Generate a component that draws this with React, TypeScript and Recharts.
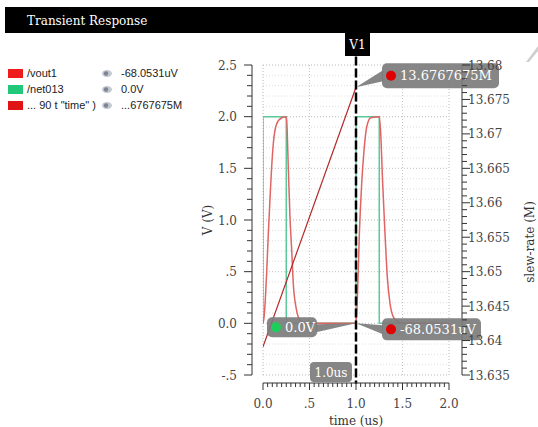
import React from "react";
import {
  ComposedChart,
  Line,
  XAxis,
  YAxis,
  CartesianGrid,
  ReferenceLine,
  ReferenceDot,
} from "recharts";

const FONT_SERIF = "'DejaVu Serif', serif";
const FONT_SANS = "'Liberation Sans', Arial, sans-serif";

// cursor V1 and the readouts it shows
const MARKER_T = 1.0;
const VOUT1_MARK = -68.0531e-6;
const NET013_MARK = 0;
const SLEW_MARK = 13.6767675;

// /vout1 (V) against time (us)
const VOUT1_T = [
  0, 0.011, 0.04, 0.057, 0.075, 0.093, 0.111, 0.147, 0.201, 0.247, 0.255, 0.272, 0.29, 0.309,
  0.326, 0.355, 0.38, 0.416, 0.45, 1.0, 1.014, 1.036, 1.061, 1.086, 1.115, 1.158, 1.251, 1.266,
  1.287, 1.312, 1.337, 1.366, 1.402, 1.445, 1.5, 2.0,
];
const VOUT1_V = [
  0, 0.058, 0.5, 0.865, 1.2, 1.51, 1.74, 1.93, 1.99, 2.0, 1.96, 1.51, 1.03, 0.7, 0.38, 0.155,
  0.058, 0.01, 0, VOUT1_MARK, 0.22, 0.865, 1.35, 1.67, 1.9, 1.99, 2.0, 1.83, 1.35, 0.865, 0.445,
  0.19, 0.06, 0.02, 0, 0,
];

// /net013 input pulse
const NET013_T = [0, 0, 0.25, 0.25, 1.0, 1.0, 1.25, 1.25, 2.0];
const NET013_V = [0, 2, 2, 0, NET013_MARK, 2, 2, 0, 0];

// slew-rate expression (M), right axis
const SLEW_T = [0, MARKER_T];
const SLEW_M = [13.6391, SLEW_MARK];

// axis tick labels
const TIME_TICKS = [0, 0.5, 1, 1.5, 2];
const TIME_TICK_LABELS = ["0.0", ".5", "1.0", "1.5", "2.0"];
const V_TICKS = [-0.5, 0, 0.5, 1, 1.5, 2, 2.5];
const V_TICK_LABELS = ["-.5", "0.0", ".5", "1.0", "1.5", "2.0", "2.5"];
const SLEW_TICKS = [13.635, 13.64, 13.645, 13.65, 13.655, 13.66, 13.665, 13.67, 13.675, 13.68];
const SLEW_TICK_LABELS = [
  "13.635", "13.64", "13.645", "13.65", "13.655", "13.66", "13.665", "13.67", "13.675", "13.68",
];

// legend rows
const LEGEND_NAMES = ["/vout1", "/net013", '... 90 t "time" )'];
const LEGEND_COLORS = ["#ee1c1c", "#22c87a", "#e01414"];

const fmtMicroVolt = (v: number) => `${(v * 1e6).toFixed(4)}uV`;
const fmtVolt = (v: number) => `${v.toFixed(1)}V`;
const fmtMega = (v: number) => `${v}M`;
const LEGEND_VALUES = [
  fmtMicroVolt(VOUT1_MARK),
  fmtVolt(NET013_MARK),
  "..." + fmtMega(SLEW_MARK).slice(-8),
];

const zip = (ts: number[], vs: number[], key: string) =>
  ts.map((t, i) => ({ t, [key]: vs[i] }));

const vout1Data = zip(VOUT1_T, VOUT1_V, "v");
const net013Data = zip(NET013_T, NET013_V, "v");
const slewData = zip(SLEW_T, SLEW_M, "s");

const steps = (lo: number, hi: number, n: number) =>
  Array.from({ length: n + 1 }, (_, i) => Math.round((lo + ((hi - lo) * i) / n) * 1e6) / 1e6);

const TIME_MINOR = steps(0, 2, 40);
const GRID_T = steps(0, 2, 20);
const V_MINOR = steps(-0.5, 2.5, 30);
const SLEW_MINOR = steps(13.635, 13.68, 45);

const majorIndex = (ticks: number[], v: number) =>
  ticks.findIndex((t) => Math.abs(t - v) < 1e-7);

const tickText = { fill: "#444", fontSize: 12, fontFamily: FONT_SERIF };

function TimeTick({ x, y, payload }: any) {
  const i = majorIndex(TIME_TICKS, payload.value);
  return (
    <g>
      <line x1={x} x2={x} y1={y} y2={y + (i >= 0 ? 7 : 4)} stroke="#333" />
      {i >= 0 && (
        <text x={x} y={y + 25} textAnchor="middle" {...tickText}>
          {TIME_TICK_LABELS[i]}
        </text>
      )}
    </g>
  );
}

function VoltTick({ x, y, payload }: any) {
  const i = majorIndex(V_TICKS, payload.value);
  return (
    <g>
      <line x1={x} x2={x - (i >= 0 ? 8 : 5)} y1={y} y2={y} stroke="#333" />
      {i >= 0 && (
        <text x={x - 15} y={y + 4.5} textAnchor="end" {...tickText}>
          {V_TICK_LABELS[i]}
        </text>
      )}
    </g>
  );
}

function SlewTick({ x, y, payload }: any) {
  const i = majorIndex(SLEW_TICKS, payload.value);
  return (
    <g>
      <line x1={x} x2={x + (i >= 0 ? 8 : 5)} y1={y} y2={y} stroke="#333" />
      {i >= 0 && (
        <text x={x + 6} y={y + 4.5} textAnchor="start" {...tickText}>
          {SLEW_TICK_LABELS[i]}
        </text>
      )}
    </g>
  );
}

// rotated axis title, placed relative to the axis box
const axisTitle = (text: string, dx: number, dy: number) => (props: any) => {
  const vb = props.viewBox || {};
  const cx = vb.x + dx;
  const cy = vb.y + vb.height / 2 + dy;
  return (
    <text
      x={cx}
      y={cy}
      transform={`rotate(-90, ${cx}, ${cy})`}
      textAnchor="middle"
      dominantBaseline="central"
      fill="#333"
      fontSize={12}
      fontFamily={FONT_SERIF}
    >
      {text}
    </text>
  );
};

// readout bubbles hanging off the cursor
const CALLOUTS = [
  {
    key: "slew",
    y: SLEW_MARK,
    axis: "s",
    text: fmtMega(SLEW_MARK),
    dot: "#e00000",
    box: [26, -24, 117, 25],
    wedge: [[0, 0], [27, -17], [27, -6]],
  },
  {
    key: "net013",
    y: NET013_MARK,
    axis: "v",
    text: fmtVolt(NET013_MARK),
    dot: "#1ccf5a",
    box: [-89, -6, 50, 20],
    wedge: [[0, 0], [-40, 1], [-40, 9]],
  },
  {
    key: "vout1",
    y: VOUT1_MARK,
    axis: "v",
    text: fmtMicroVolt(VOUT1_MARK),
    dot: "#e00000",
    box: [26, -5, 99, 22],
    wedge: [[0, 0], [27, 2], [27, 11]],
  },
];

const BUBBLE = "#7c7c7c";

const calloutShape = (c: (typeof CALLOUTS)[number]) => (p: any) => {
  const { cx, cy } = p;
  const [bx, by, bw, bh] = c.box;
  return (
    <g>
      <polygon
        points={c.wedge.map(([dx, dy]) => `${cx + dx},${cy + dy}`).join(" ")}
        fill={BUBBLE}
        opacity={0.92}
      />
      <rect x={cx + bx} y={cy + by} width={bw} height={bh} rx={5} fill={BUBBLE} opacity={0.92} />
      <circle cx={cx + bx + 9} cy={cy + by + bh / 2} r={5} fill={c.dot} />
      <text
        x={cx + bx + 18}
        y={cy + by + bh / 2 + 4.5}
        fill="#fff"
        fontSize={13}
        fontFamily={FONT_SERIF}
      >
        {c.text}
      </text>
    </g>
  );
};

const cursorTag = (p: any) => (
  <g>
    <rect x={p.cx - 11} y={p.cy - 32} width={25} height={23} fill="#000" />
    <text
      x={p.cx + 1.5}
      y={p.cy - 16}
      textAnchor="middle"
      fill="#fff"
      fontSize={12}
      fontFamily={FONT_SERIF}
    >
      V1
    </text>
  </g>
);

const timeTag = (p: any) => (
  <g>
    <rect x={p.cx - 46} y={p.cy - 13} width={42} height={20} rx={4} fill={BUBBLE} opacity={0.92} />
    <text
      x={p.cx - 25}
      y={p.cy + 2}
      textAnchor="middle"
      fill="#fff"
      fontSize={12}
      fontFamily={FONT_SERIF}
    >
      {`${MARKER_T.toFixed(1)}us`}
    </text>
  </g>
);

function Eye() {
  return (
    <svg width={12} height={9} style={{ position: "absolute", left: 101, top: 4 }}>
      <ellipse cx={6} cy={4.5} rx={5} ry={3.5} fill="#c3c7cf" />
      <circle cx={5} cy={4.5} r={2.2} fill="#7d8594" />
    </svg>
  );
}

export default function App() {
  return (
    <div
      style={{
        position: "absolute",
        left: 0,
        top: 0,
        width: 538,
        height: 427,
        background: "#fff",
        overflow: "hidden",
      }}
    >
      <div
        style={{
          position: "absolute",
          left: 5,
          top: 7,
          width: 533,
          height: 26,
          background: "#000",
          color: "#fff",
          fontFamily: FONT_SERIF,
          fontSize: 12,
          lineHeight: "28px",
          paddingLeft: 22,
          boxSizing: "border-box",
        }}
      >
        Transient Response
      </div>

      <div style={{ position: "absolute", left: 0, top: 65, fontFamily: FONT_SANS, fontSize: 11, color: "#222" }}>
        {LEGEND_NAMES.map((name, i) => (
          <div key={name} style={{ position: "absolute", left: 0, top: i * 16, width: 200, height: 16 }}>
            <span
              style={{
                position: "absolute",
                left: 8,
                top: 4,
                width: 15,
                height: 9,
                background: LEGEND_COLORS[i],
              }}
            />
            <span style={{ position: "absolute", left: 27, top: 0, lineHeight: "16px", whiteSpace: "nowrap" }}>
              {name}
            </span>
            <Eye />
            <span style={{ position: "absolute", left: 121, top: 0, lineHeight: "16px", whiteSpace: "nowrap" }}>
              {LEGEND_VALUES[i]}
            </span>
          </div>
        ))}
      </div>

      <div style={{ position: "absolute", left: 0, top: 0 }}>
        <ComposedChart width={538} height={427} margin={{ top: 65, right: 4, bottom: 0, left: 212 }}>
          <CartesianGrid xAxisId="g" yAxisId="v" stroke="#dedede" strokeDasharray="1 2" />
          {TIME_TICKS.map((t) => (
            <ReferenceLine
              key={`gx${t}`}
              x={t}
              xAxisId="t"
              yAxisId="v"
              stroke="#c6c6c6"
              strokeDasharray="1 2"
            />
          ))}
          {V_TICKS.map((v) => (
            <ReferenceLine
              key={`gy${v}`}
              y={v}
              xAxisId="t"
              yAxisId="v"
              stroke="#c6c6c6"
              strokeDasharray="1 2"
            />
          ))}

          <XAxis
            xAxisId="g"
            type="number"
            domain={[0, 2]}
            ticks={GRID_T}
            height={8}
            tick={false}
            tickLine={false}
            axisLine={false}
            allowDataOverflow
          />
          <XAxis
            xAxisId="t"
            dataKey="t"
            type="number"
            domain={[0, 2]}
            ticks={TIME_MINOR}
            interval={0}
            height={44}
            tickSize={0}
            tickMargin={0}
            tickLine={false}
            axisLine={{ stroke: "#333" }}
            tick={(p: any) => <TimeTick {...p} />}
            allowDataOverflow
            label={{
              value: "time (us)",
              position: "insideBottom",
              offset: 2,
              fill: "#333",
              fontSize: 12,
              fontFamily: FONT_SERIF,
            }}
          />
          <YAxis
            yAxisId="gl"
            orientation="left"
            width={11}
            domain={[0, 1]}
            tick={false}
            tickLine={false}
            axisLine={false}
          />
          <YAxis
            yAxisId="v"
            orientation="left"
            type="number"
            width={40}
            domain={[-0.5, 2.5]}
            ticks={V_MINOR}
            interval={0}
            tickSize={0}
            tickMargin={0}
            tickLine={false}
            axisLine={{ stroke: "#333" }}
            tick={(p: any) => <VoltTick {...p} />}
            allowDataOverflow
            label={{ content: axisTitle("V (V)", -4, 0) }}
          />
          <YAxis
            yAxisId="gr"
            orientation="right"
            width={13}
            domain={[0, 1]}
            tick={false}
            tickLine={false}
            axisLine={false}
          />
          <YAxis
            yAxisId="s"
            orientation="right"
            type="number"
            width={72}
            domain={[13.635, 13.68]}
            ticks={SLEW_MINOR}
            interval={0}
            tickSize={0}
            tickMargin={0}
            tickLine={false}
            axisLine={{ stroke: "#333" }}
            tick={(p: any) => <SlewTick {...p} />}
            allowDataOverflow
            label={{ content: axisTitle("slew-rate (M)", 68, 22) }}
          />

          <Line
            data={net013Data}
            dataKey="v"
            xAxisId="t"
            yAxisId="v"
            type="linear"
            stroke="#5cc99a"
            strokeWidth={1.5}
            dot={false}
            isAnimationActive={false}
          />
          <Line
            data={vout1Data}
            dataKey="v"
            xAxisId="t"
            yAxisId="v"
            type="monotone"
            stroke="#e06464"
            strokeWidth={1.5}
            dot={false}
            isAnimationActive={false}
          />
          <Line
            data={slewData}
            dataKey="s"
            xAxisId="t"
            yAxisId="s"
            type="linear"
            stroke="#b42828"
            strokeWidth={1.2}
            dot={false}
            isAnimationActive={false}
          />

          <ReferenceLine
            xAxisId="t"
            yAxisId="v"
            segment={[
              { x: MARKER_T, y: 2.582 },
              { x: MARKER_T, y: -0.585 },
            ]}
            ifOverflow="visible"
            stroke="#000"
            strokeWidth={2.5}
            strokeDasharray="9 3"
          />
          <ReferenceDot
            xAxisId="t"
            yAxisId="v"
            x={MARKER_T}
            y={2.5}
            ifOverflow="visible"
            shape={cursorTag}
          />
          <ReferenceDot
            xAxisId="t"
            yAxisId="v"
            x={MARKER_T}
            y={-0.5}
            ifOverflow="visible"
            shape={timeTag}
          />
          {CALLOUTS.map((c) => (
            <ReferenceDot
              key={c.key}
              xAxisId="t"
              yAxisId={c.axis}
              x={MARKER_T}
              y={c.y}
              ifOverflow="visible"
              shape={calloutShape(c)}
            />
          ))}
        </ComposedChart>
      </div>

      <svg
        width={538}
        height={427}
        style={{ position: "absolute", left: 0, top: 0, pointerEvents: "none" }}
      >
        <polygon points="526,62 538,46 538,51 529,62" fill="#cfcfcf" />
      </svg>
    </div>
  );
}
